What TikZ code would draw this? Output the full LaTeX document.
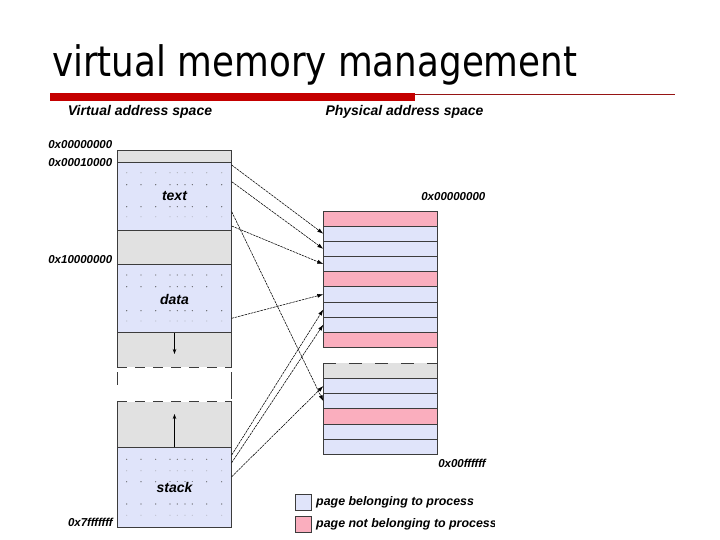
\documentclass[tikz,border=0pt]{standalone}
\usepackage{fontspec}
\setmainfont{Liberation Sans}
\newfontfamily\titlefont[FakeStretch=0.85]{DejaVu Sans}
\usetikzlibrary{arrows.meta}
\definecolor{lav}{RGB}{224,228,250}
\definecolor{pinkrow}{RGB}{250,174,190}
\definecolor{vgrey}{RGB}{225,225,225}
\definecolor{barred}{RGB}{196,0,0}
\definecolor{thinred}{RGB}{150,20,20}
\definecolor{edge}{RGB}{60,60,60}
\begin{document}
\begin{tikzpicture}[x=1pt,y=-1pt,
  vreg/.style={draw=edge, line width=0.7pt, minimum width=114.4pt, inner sep=0pt, outer sep=0pt, anchor=north west},
  vfill/.style={draw=none, minimum width=114.4pt, inner sep=0pt, outer sep=0pt, anchor=north west},
  prow/.style={draw=edge, line width=0.7pt, minimum width=114pt, minimum height=15.15pt, inner sep=0pt, outer sep=0pt, anchor=north west},
  pfill/.style={draw=none, minimum width=114pt, minimum height=15.15pt, inner sep=0pt, outer sep=0pt, anchor=north west},
  gapdash/.style={draw=edge, line width=0.8pt, dash pattern=on 10pt off 8pt},
  conn/.style={line width=0.55pt, dash pattern=on 2.5pt off 0.8pt, -{Latex[length=6pt,width=4pt]}},
  growarrow/.style={line width=0.7pt, -{Stealth[length=5pt,width=3.5pt]}},
  heading/.style={font=\bfseries\itshape\fontsize{14}{14}\selectfont, inner sep=0pt},
  addr/.style={font=\bfseries\itshape\fontsize{11.5}{11.5}\selectfont, inner sep=0pt, anchor=east},
  seglabel/.style={font=\bfseries\itshape\fontsize{14}{14}\selectfont, fill=lav, inner sep=1pt},
  legtext/.style={font=\bfseries\itshape\fontsize{12.4}{12.4}\selectfont, inner sep=0pt, anchor=west},
  legbox/.style={draw=edge, line width=0.6pt, minimum size=16pt, inner sep=0pt, outer sep=0pt}
]
\useasboundingbox (0,0) rectangle (720,540);
\fill[white] (0,0) rectangle (720,540);

% title and bar
\node[anchor=base west, font=\titlefont\fontsize{42}{42}\selectfont, inner sep=0pt] (title) at (52,77) {virtual memory management};
\fill[barred] (50,93) rectangle (415,101.5);
\draw[thinred, line width=0.8pt] (415,94) -- (675,94);

% headings
\node[heading] (vhead) at (140,112) {Virtual address space};
\node[heading] (phead) at (404.5,112) {Physical address space};

% virtual address space column
\node[vreg, fill=vgrey, minimum height=12.7pt] (v0) at (117.3,150) {};
\node[vreg, fill=lav, minimum height=67.6pt] (vtext) at (117.3,162.7) {};
\node[vreg, fill=vgrey, minimum height=33.7pt] (vg1) at (117.3,230.3) {};
\node[vreg, fill=lav, minimum height=68.7pt] (vdata) at (117.3,264) {};
\node[vfill, fill=vgrey, minimum height=34.6pt] (vg2) at (117.3,332.7) {};
\node[vfill, fill=vgrey, minimum height=45.6pt] (vg3) at (117.3,401.7) {};
\node[vreg, fill=lav, minimum height=79.7pt] (vstack) at (117.3,447.3) {};
\draw[edge, line width=0.7pt] (vg2.south west) -- (vg2.north west) -- (vg2.north east) -- (vg2.south east);
\draw[gapdash] (vg2.south west) -- (vg2.south east);
\draw[edge, line width=0.7pt] (vg3.north west) -- (vg3.south west) (vg3.north east) -- (vg3.south east);
\draw[gapdash] (vg3.north west) -- (vg3.north east);
\draw[edge, line width=0.7pt] (117.3,372) -- (117.3,385) (231.7,372) -- (231.7,399);

% dot patterns
\foreach \top/\rows in {162.7/{10/lav!40!gray,22/black!70,44/black!70,54/lav!60!gray},
                        264/{11/black!60,22.7/black!70,46.7/black!70,57/lav!60!gray},
                        447.3/{12/black!65,23.5/lav!50!gray,34.5/black!70,56.7/black!70,68/lav!60!gray}} {
  \foreach \dy/\col in \rows {
    \foreach \dx in {9.4,23.7,38.4,52.7,60,67.7,75,89.4,104.4} {
      \fill[\col] (117.3+\dx,\top+\dy) circle (0.6pt);
    }
  }
}
\node[seglabel] (ltext) at (174.5,196) {text};
\node[seglabel] (ldata) at (174.5,299) {data};
\node[seglabel] (lstack) at (174.5,487.7) {stack};

% growth arrows
\coordinate (downend) at (174.5,354);
\coordinate (upend) at (174.5,414);
\draw[growarrow] (vg2.north) -- (downend);
\draw[growarrow] (vstack.north) -- (upend);

% virtual addresses
\node[addr] (a0) at (112.5,145) {0x00000000};
\node[addr] (a1) at (112.5,163) {0x00010000};
\node[addr] (a2) at (112.5,260) {0x10000000};
\node[addr] (a3) at (113,522) {0x7fffffff};

% physical address space column
\foreach \i/\c in {1/pinkrow,2/lav,3/lav,4/lav,5/pinkrow,6/lav,7/lav,8/lav,9/pinkrow} {
  \node[prow, fill=\c] (p\i) at (323.3,{211+(\i-1)*15.15}) {};
}
\node[pfill, fill=vgrey] (q1) at (323.3,363.3) {};
\foreach \i/\c in {2/lav,3/lav,4/pinkrow,5/lav,6/lav} {
  \node[prow, fill=\c] (q\i) at (323.3,{363.3+(\i-1)*15.15}) {};
}
\draw[edge, line width=0.7pt] (q1.north west) -- (q1.south west) (q1.north east) -- (q1.south east);
\draw[gapdash, dash pattern=on 13pt off 13pt] (q1.north west) -- (q1.north east);
\draw[edge, line width=0.7pt] (p9.south east) -- (q1.north east);

\node[addr] (b0) at (485.5,197) {0x00000000};
\node[addr] (b1) at (486,463) {0x00ffffff};

% mapping connectors
\coordinate (s1) at (231.7,165);
\coordinate (s2) at (231.7,181.7);
\coordinate (s3) at (231.7,226);
\coordinate (s4) at (231.7,211.7);
\coordinate (s5) at (231.7,318.3);
\coordinate (s6) at (231.7,455);
\coordinate (s7) at (231.7,462.7);
\coordinate (s8) at (231.7,476.7);
\draw[conn] (s1) -- (p2.west);
\draw[conn] (s2) -- (p3.west);
\draw[conn] (s3) -- (p4.west);
\draw[conn] (s4) -- (q3.west);
\draw[conn] (s5) -- (p6.west);
\draw[conn] (s6) -- (p7.west);
\draw[conn] (s7) -- (p8.west);
\draw[conn] (s8) -- (q2.west);

% legend
\node[legbox, fill=lav] (leg1) at (303.7,502.2) {};
\node[legbox, fill=pinkrow] (leg2) at (303.7,524.7) {};
\node[legtext] (legt1) at (316,502) {page belonging to process};
\begin{scope}
  \clip (0,0) rectangle (494,540);
  \node[legtext] (legt2) at (316,524) {page not belonging to process};
\end{scope}
\end{tikzpicture}
\end{document}
